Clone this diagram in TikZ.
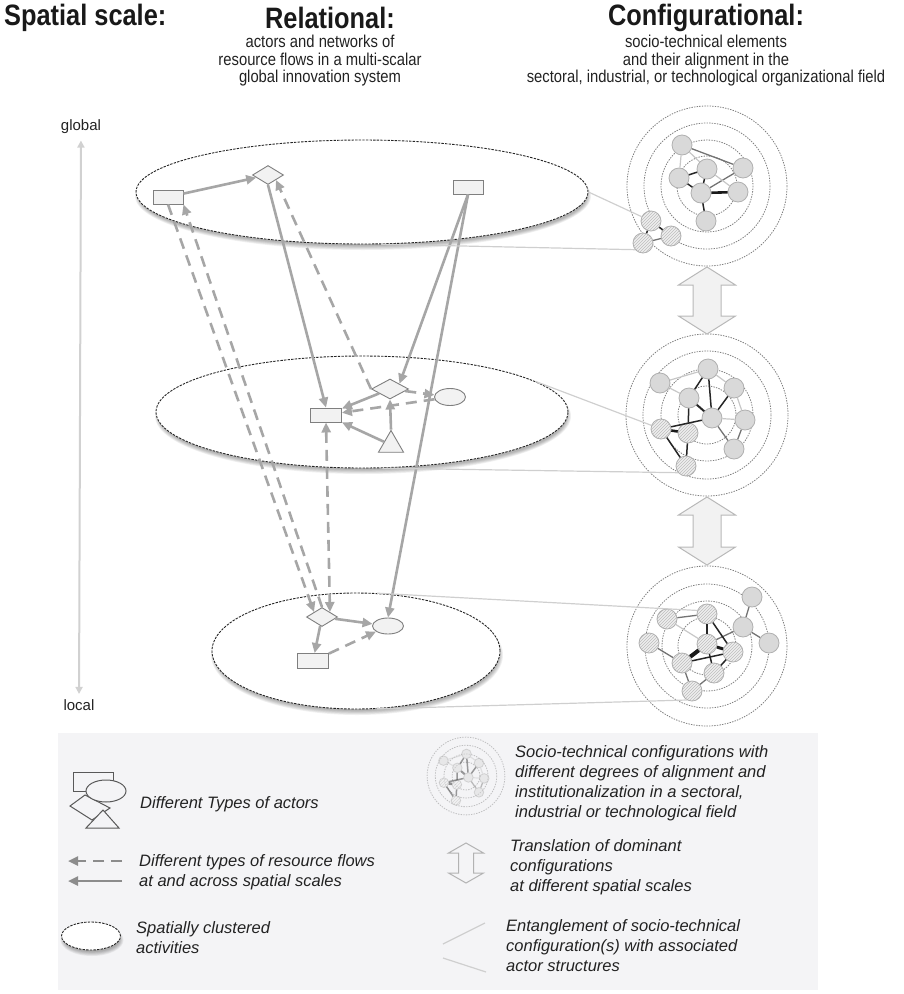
\documentclass[tikz,border=0pt]{standalone}
\usepackage{fontspec}
\setmainfont{Liberation Sans}
\newfontfamily\narrowsf[FakeStretch=0.86]{Liberation Sans}
\usetikzlibrary{shapes.geometric,arrows.meta,patterns}

\definecolor{flowgray}{HTML}{A6A6A6}
\definecolor{actfill}{HTML}{F2F2F2}
\definecolor{actline}{HTML}{7F7F7F}
\definecolor{cfill}{HTML}{D9D9D9}
\definecolor{cline}{HTML}{B0B0B0}
\definecolor{hfill}{HTML}{EFEFEF}
\definecolor{hatch}{HTML}{BDBDBD}
\definecolor{ring}{HTML}{7F7F7F}
\definecolor{legbg}{HTML}{F4F4F6}
\definecolor{tangle}{HTML}{CFCFCF}
\definecolor{txt}{HTML}{222222}

% soft shadow under a dashed cluster ellipse: centre x, centre y, x radius, y radius
\newcommand\clustershadow[4]{%
  \foreach \k in {0,...,5}{%
    \fill[black,opacity=0.055] (#1+1,#2+4) ellipse [x radius=#3-2+\k*0.8, y radius=#4-2+\k*0.8];}}

% hollow two-way arrow: x, top tip y, bottom tip y, shaft half width, head half width, head length, style
\newcommand\twowayarrow[7]{%
  \filldraw[#7] (#1,#2) -- (#1+#5,#2+#6) -- (#1+#4,#2+#6) -- (#1+#4,#3-#6) -- (#1+#5,#3-#6)
    -- (#1,#3) -- (#1-#5,#3-#6) -- (#1-#4,#3-#6) -- (#1-#4,#2+#6) -- (#1-#5,#2+#6) -- cycle;}

% global configuration
\newcommand\cfgtop{%
  \foreach \r in {80,63,46,30} \draw[ringline] (0,0) circle [radius=\r];
  \node[cnode] (n1) at (-25,-41) {};
  \node[cnode] (n2) at (0,-17) {};
  \node[cnode] (n3) at (36,-18) {};
  \node[cnode] (n4) at (-28,-8) {};
  \node[cnode] (n5) at (-6,7) {};
  \node[cnode] (n6) at (31,6) {};
  \node[cnode] (n7) at (-1,35) {};
  \node[hnode] (h1) at (-56,35) {};
  \node[hnode] (h2) at (-36,50) {};
  \node[hnode] (h3) at (-64,57) {};
  \draw[eM] (n1) -- (n3);
  \draw[eL] (n1) -- (n4);
  \draw[eL] (n1) -- (n2);
  \draw[eD] (n4) -- (n2);
  \draw[eD] (n2) -- (n5);
  \draw[eD] (n4) -- (n5);
  \draw[eM] (n5) -- (n3);
  \draw[eL] (n2) -- (n6);
  \draw[eX] (n5) -- (n6);
  \draw[eD] (n5) -- (n7);
  \draw[eD] (h1) -- (h2);
  \draw[eD] (h1) -- (h3);
  \draw[eM] (h3) -- (h2);
}

% regional configuration
\newcommand\cfgmid{%
  \foreach \r in {81,64,46,29} \draw[ringline] (0,0) circle [radius=\r];
  \node[cnode] (m1) at (-47,-32) {};
  \node[cnode] (m2) at (1,-46) {};
  \node[cnode] (m3) at (27,-27) {};
  \node[cnode] (m4) at (-18,-17) {};
  \node[cnode] (m5) at (5,3) {};
  \node[cnode] (m6) at (38,5) {};
  \node[cnode] (m7) at (27,34) {};
  \node[hnode] (mh1) at (-46,14) {};
  \node[hnode] (mh2) at (-19,18) {};
  \node[hnode] (mh3) at (-21,51) {};
  \draw[eL] (m1) -- (m2);
  \draw[eL] (m1) -- (m4);
  \draw[eL] (m2) -- (m3);
  \draw[eD] (m2) -- (m4);
  \draw[eD] (m2) -- (m5);
  \draw[eD] (m3) -- (m5);
  \draw[eD, line width=2] (m4) -- (m5);
  \draw[eL] (m5) -- (m6);
  \draw[eL] (m3) -- (m6);
  \draw[eM] (m5) -- (m7);
  \draw[eM] (m6) -- (m7);
  \draw[eD] (mh1) -- (m5);
  \draw[eX] (mh1) -- (mh2);
  \draw[eD] (m4) -- (mh2);
  \draw[eD] (mh1) -- (mh3);
  \draw[eD] (mh2) -- (mh3);
}

% local configuration
\newcommand\cfgbot{%
  \foreach \r in {80,62,45,29} \draw[ringline] (0,0) circle [radius=\r];
  \node[cnode] (g1) at (45,-49) {};
  \node[cnode] (g2) at (36,-19) {};
  \node[cnode] (g3) at (62,-3) {};
  \node[hnode] (k1) at (-40,-27) {};
  \node[hnode] (k2) at (0,-32) {};
  \node[hnode] (k3) at (-58,-3) {};
  \node[hnode] (k4) at (0,-2) {};
  \node[hnode] (k5) at (26,6) {};
  \node[hnode] (k6) at (-25,17) {};
  \node[hnode] (k7) at (7,27) {};
  \node[hnode] (k8) at (-15,45) {};
  \draw[eM] (g1) -- (g2);
  \draw[eM] (g2) -- (g3);
  \draw[eM] (g2) -- (k4);
  \draw[eM] (k1) -- (k2);
  \draw[eL] (k1) -- (k4);
  \draw[eM] (k3) -- (k6);
  \draw[eD] (k2) -- (k4);
  \draw[eD] (k2) -- (k5);
  \draw[eX, line width=4] (k4) -- (k6);
  \draw[eX, line width=3] (k4) -- (k5);
  \draw[eD] (k4) -- (k7);
  \draw[eD] (k6) -- (k5);
  \draw[eD] (k5) -- (k7);
  \draw[eM] (k6) -- (k8);
  \draw[eM] (k7) -- (k8);
}

\begin{document}
\begin{tikzpicture}[x=1pt,y=-1pt,
  cluster/.style={ellipse, draw=black!85, fill=white, line width=0.9, dash pattern=on 2.4pt off 1.2pt, inner sep=0},
  arect/.style={rectangle, draw=actline, fill=actfill, line width=0.9, minimum width=30, minimum height=14, inner sep=0},
  adiam/.style={diamond, draw=actline, fill=actfill, line width=0.9, minimum width=31, minimum height=19, inner sep=0},
  aell/.style={ellipse, draw=actline, fill=actfill, line width=0.9, minimum width=31, minimum height=17, inner sep=0},
  atri/.style={regular polygon, regular polygon sides=3, draw=actline, fill=actfill, line width=0.9, minimum size=29, inner sep=0},
  solidflow/.style={draw=flowgray, line width=2.6, -{Triangle[length=10pt,width=9pt]}},
  dashflow/.style={solidflow, dash pattern=on 11pt off 7pt},
  ringline/.style={draw=ring, line width=0.8, dash pattern=on 1.4pt off 1.2pt},
  cnode/.style={circle, minimum size=20, inner sep=0, fill=cfill, draw=cline, line width=0.8},
  hnode/.style={circle, minimum size=20, inner sep=0, draw=cline, line width=0.8,
    preaction={fill=hfill}, pattern=north east lines, pattern color=hatch},
  eL/.style={draw=black!22, line width=1.2},
  eM/.style={draw=black!55, line width=1.3},
  eD/.style={draw=black!85, line width=1.5},
  eX/.style={draw=black!90, line width=2.6},
  twoway/.style={fill=black!5, draw=black!28, line width=1},
  tangleline/.style={draw=tangle, line width=1.2},
  axisline/.style={draw=black!18, line width=2, {Triangle[length=7pt,width=7pt]}-{Triangle[length=7pt,width=7pt]}},
  legshape/.style={draw=black!65, fill=legbg, line width=1},
  legtext/.style={font=\itshape\fontsize{16.5}{20}\selectfont, text=txt, inner sep=0, align=left},
  headbig/.style={font=\narrowsf\bfseries\fontsize{29.5}{31}\selectfont, text=black!90},
  headsub/.style={font=\narrowsf\fontsize{17.2}{17.5}\selectfont, text=txt, align=center, inner sep=0},
]
\useasboundingbox (0,0) rectangle (903,994);

% ---------- headings ----------
\node[headbig, anchor=west, inner sep=0] (hs) at (4,18) {Spatial scale:};
\node[headbig, inner sep=0] (hr) at (330,18) {Relational:};
\node[headsub] (hrs) at (320,61) {actors and networks of\\resource flows in a multi-scalar\\global innovation system};
\node[headbig, inner sep=0] (hc) at (706,18) {Configurational:};
\node[headsub] (hcs) at (706,61) {socio-technical elements\\and their alignment  in the\\sectoral, industrial,  or technological organizational field};

% ---------- spatial scale axis ----------
\node[font=\fontsize{15}{18}\selectfont, text=txt] (glob) at (81,127) {global};
\node[font=\fontsize{15}{18}\selectfont, text=txt] (loc) at (79,705) {local};
\draw[axisline, shorten <=3pt, shorten >=2pt] (glob) -- (loc);

% ---------- spatial clusters ----------
\clustershadow{362}{192}{226}{52}
\node[cluster, minimum width=452, minimum height=104] (E1) at (362,192) {};
\clustershadow{362}{412}{206}{56}
\node[cluster, minimum width=412, minimum height=112] (E2) at (362,412) {};
\clustershadow{356}{651}{144}{58}
\node[cluster, minimum width=288, minimum height=116] (E3) at (356,651) {};

% ---------- actors ----------
\node[arect] (A1) at (168,197) {};
\node[adiam] (D1) at (268,175) {};
\node[arect] (A2) at (468,187) {};
\node[arect, minimum width=31] (MR) at (326,415) {};
\node[adiam, minimum width=37, minimum height=20] (MD) at (390,389) {};
\node[aell] (ME) at (450,397) {};
\node[atri] (MT) at (391,445) {};
\node[adiam] (BD) at (322,617) {};
\node[aell, minimum height=16] (BE) at (388,626) {};
\node[arect, minimum width=31, minimum height=15] (BR) at (313,661) {};

% ---------- resource flows ----------
\draw[solidflow] (A1) -- (D1);
\draw[solidflow] (D1.south) -- (MR.north);
\draw[dashflow] (MD.west) -- (D1.south east);
\draw[solidflow] (A2.south) -- (MD.north east);
\draw[solidflow] (A2.south) -- (BE.north);
\draw[dashflow] (A1.south) -- (BD.north west);
\draw[dashflow] (BD.north) -- (A1.south east);
\draw[dashflow, {Triangle[length=10pt,width=9pt]}-{Triangle[length=10pt,width=9pt]}] (MR.south) -- (BD.north east);
\draw[solidflow] (MD) -- (MR);
\draw[dashflow] (ME) -- (MR);
\draw[solidflow] (MT) -- (MR);
\draw[solidflow] (MT.north) -- (MD.south);
\draw[dashflow] (MD) -- (ME);
\draw[solidflow] (BD) -- (BE);
\draw[solidflow] (BD) -- (BR);
\draw[dashflow] (BR) -- (BE);

% ---------- socio-technical configurations ----------
\begin{scope}[shift={(707,186)}, name prefix=c1-]
  \cfgtop
\end{scope}
\begin{scope}[shift={(707,415)}, name prefix=c2-]
  \cfgmid
\end{scope}
\begin{scope}[shift={(707,646)}, name prefix=c3-]
  \cfgbot
\end{scope}

% translation between scales
\twowayarrow{707}{267}{334}{14}{28.5}{18}{twoway}
\twowayarrow{707}{497}{565}{14}{28.5}{18}{twoway}

% entanglement of configurations and actor structures
\draw[tangleline] (E1.east) -- (c1-h1);
\draw[tangleline] (E1.-70) -- (c1-h3.220);
\draw[tangleline] (E2.10) -- (c2-mh1);
\draw[tangleline] (E2.-70) -- (c2-mh3.220);
\draw[tangleline] (E3.70) -- (c3-k2.160);
\draw[tangleline] (E3.-70) -- (c3-k8.240);

% ---------- legend ----------
\fill[legbg] (58,733) rectangle (818,990);

\draw[legshape] (73,772) rectangle (113,791);
\draw[legshape] (70,806) -- (85,795) -- (110,808) -- (92,820) -- cycle;
\draw[legshape] (106,791) ellipse [x radius=20, y radius=11];
\draw[legshape] (103,810) -- (119,828) -- (86,828) -- cycle;
\node[legtext, anchor=base west] (lt1) at (140,808) {Different Types of actors};

\coordinate (lfa) at (122,861);
\coordinate (lfb) at (68,861);
\coordinate (lfc) at (122,881);
\coordinate (lfd) at (68,881);
\draw[dashflow, draw=black!45, line width=2.4] (lfa) -- (lfb);
\draw[solidflow, draw=black!45, line width=2.4] (lfc) -- (lfd);
\node[legtext, anchor=north west] (lt2) at (139,854) {Different types of resource flows\\at and across spatial scales};

\clustershadow{91}{936}{29.5}{14}
\node[cluster, minimum width=59, minimum height=28] (LE) at (91,936) {};
\node[legtext, anchor=north west] (lt3) at (136,921) {Spatially clustered\\activities};

\begin{scope}[shift={(466,776)}, scale=0.48, transform shape, name prefix=lg-, opacity=0.45]
  \cfgmid
\end{scope}
\node[legtext, anchor=north west] (lt4) at (515,745) {Socio-technical configurations with\\different degrees of alignment and\\institutionalization in a  sectoral,\\industrial or technological field};

\twowayarrow{466}{843}{883}{7.5}{17.5}{10}{fill=legbg, draw=black!30, line width=1}
\node[legtext, anchor=north west] (lt5) at (510,839) {Translation of dominant\\configurations\\at different spatial scales};

\coordinate (lea) at (485,923);
\coordinate (leb) at (443,944);
\coordinate (lec) at (443,958);
\coordinate (led) at (486,972);
\draw[tangleline] (lea) -- (leb);
\draw[tangleline] (lec) -- (led);
\node[legtext, anchor=north west] (lt6) at (506,919) {Entanglement of socio-technical\\configuration(s) with associated\\actor structures};
\end{tikzpicture}
\end{document}
